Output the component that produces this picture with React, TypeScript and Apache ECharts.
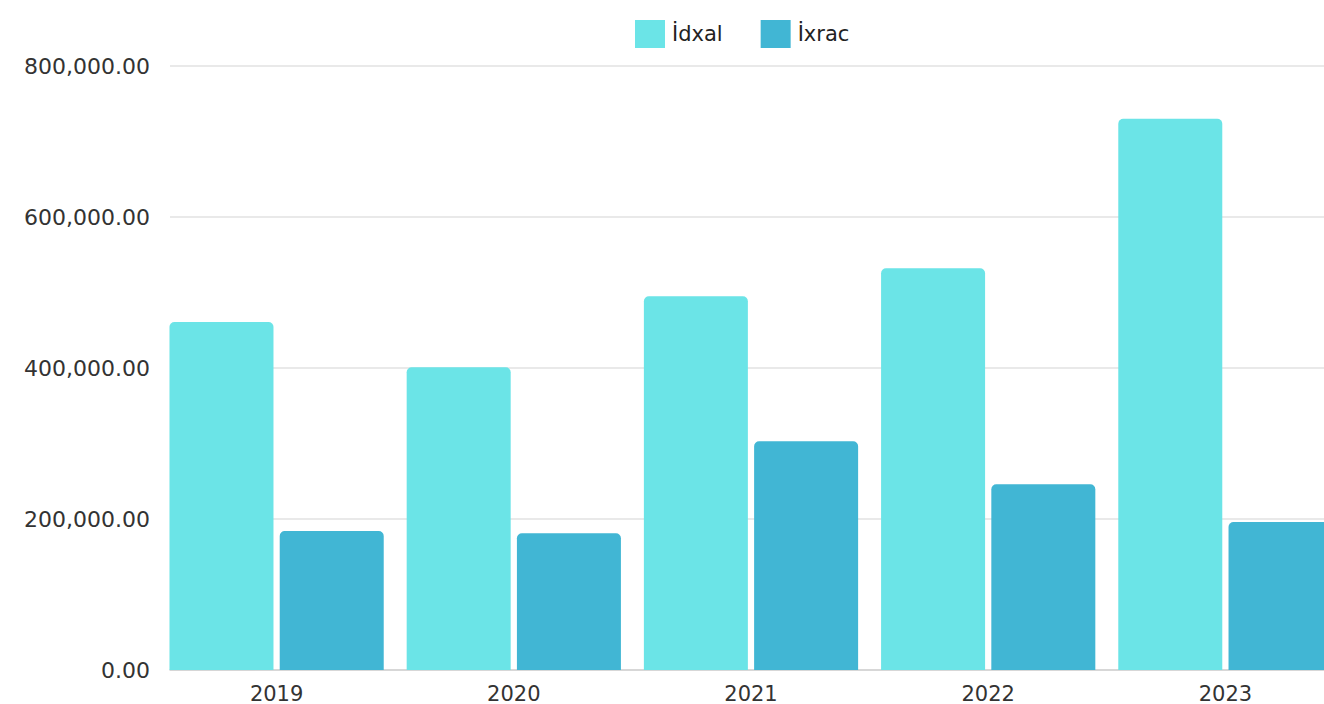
import React, { useEffect, useRef } from "react";
import * as echarts from "echarts";

const years = ["2019", "2020", "2021", "2022", "2023"];
const idxal = [461000, 401000, 495000, 532000, 730000];
const ixrac = [184000, 181000, 303000, 246000, 196000];
const yMin = 0;
const yMax = 800000;
const yStep = 200000;
const seriesNames = ["İdxal", "İxrac"];
const colors = ["#6BE4E7", "#41B6D4"];

const FONT = "'DejaVu Sans', 'Noto Sans', sans-serif";

export default function App() {
  const ref = useRef<HTMLDivElement>(null);
  useEffect(() => {
    if (!ref.current) return;
    const chart = echarts.init(ref.current, null, { renderer: "svg" });
    const fmt = (v: number) =>
      v.toLocaleString("en-US", { minimumFractionDigits: 2, maximumFractionDigits: 2 });
    chart.setOption({
      animation: false,
      backgroundColor: "#ffffff",
      color: colors,
      textStyle: { fontFamily: FONT },
      legend: {
        left: 630,
        top: 15,
        itemWidth: 30,
        itemHeight: 28,
        itemGap: 38,
        icon: "rect",
        textStyle: { fontSize: 21, color: "#222", fontFamily: FONT, padding: [0, 0, 0, 2] },
        data: seriesNames,
      },
      grid: [
        { left: 170, width: 1174, top: 66, bottom: 34, outerBoundsMode: "none", containLabel: false },
        { left: 158, width: 1186, top: 66, bottom: 34, outerBoundsMode: "none", containLabel: false },
      ],
      xAxis: [
        {
          type: "category",
          gridIndex: 0,
          data: years,
          axisLine: { show: true, lineStyle: { color: "#d0d0d0", width: 1.5 } },
          axisTick: { show: false },
          axisLabel: { show: false },
          splitLine: { show: false },
        },
        {
          type: "category",
          gridIndex: 1,
          data: years,
          axisLine: { show: false },
          axisTick: { show: false },
          axisLabel: { fontSize: 21, color: "#333", margin: 13, fontFamily: FONT },
          splitLine: { show: false },
        },
      ],
      yAxis: [
        {
          type: "value",
          gridIndex: 0,
          min: yMin,
          max: yMax,
          interval: yStep,
          axisLine: { show: false },
          axisTick: { show: false },
          axisLabel: { fontSize: 22, color: "#333", margin: 20, formatter: fmt, fontFamily: FONT },
          splitLine: { show: true, lineStyle: { color: "#e2e2e2", width: 1.5 } },
        },
        {
          type: "value",
          gridIndex: 1,
          min: yMin,
          max: yMax,
          interval: yStep,
          show: false,
          splitLine: { show: false },
        },
      ],
      series: [
        {
          name: seriesNames[0],
          type: "bar",
          xAxisIndex: 1,
          yAxisIndex: 1,
          data: idxal,
          barWidth: 104,
          barGap: "6%",
          itemStyle: { color: colors[0], borderRadius: [5, 5, 0, 0] },
        },
        {
          name: seriesNames[1],
          type: "bar",
          xAxisIndex: 1,
          yAxisIndex: 1,
          data: ixrac,
          barWidth: 104,
          barGap: "6%",
          itemStyle: { color: colors[1], borderRadius: [5, 5, 0, 0] },
        },
      ],
    });
    return () => chart.dispose();
  }, []);
  return (
    <div
      ref={ref}
      style={{ position: "fixed", left: 0, top: 0, width: 1324, height: 704, background: "#fff" }}
    />
  );
}
